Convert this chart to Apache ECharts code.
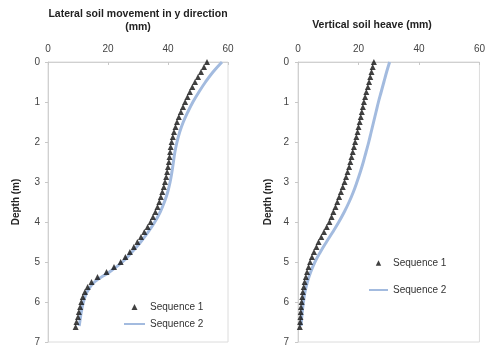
<!DOCTYPE html>
<html>
<head>
<meta charset="utf-8">
<script src="https://cdn.jsdelivr.net/npm/echarts@6/dist/echarts.min.js"></script>
<style>html,body{margin:0;padding:0;background:#fff}#c{width:488px;height:358px}</style>
</head>
<body>
<div id="c"></div>
<script>
// ---- data ----
var depth1 = [0,0.125,0.25,0.375,0.5,0.625,0.75,0.875,1,1.125,1.25,1.375,1.5,1.625,1.75,1.875,2,2.125,2.25,2.375,2.5,2.625,2.75,2.875,3,3.125,3.25,3.375,3.5,3.625,3.75,3.875,4,4.125,4.25,4.375,4.5,4.625,4.75,4.875,5,5.125,5.25,5.375,5.5,5.625,5.75,5.875,6,6.125,6.25,6.375,6.5,6.625];
var lateralSeq1 = [53,52,51,50,49,48.1,47.3,46.5,45.7,45,44.3,43.6,43,42.5,42,41.6,41.2,40.9,40.7,40.5,40.3,40,39.7,39.4,39,38.6,38.1,37.6,37.1,36.5,35.8,35,34.2,33.2,32.1,31,29.8,28.6,27.3,25.8,24.2,22,19.5,16.5,14.5,13.2,12.3,11.6,11.1,10.7,10.3,10,9.5,9.2];
var heaveSeq1 = [25.1,24.7,24.3,23.9,23.5,23.1,22.6,22.2,21.8,21.45,21.1,20.75,20.4,20,19.7,19.3,18.9,18.5,18.1,17.7,17.3,16.9,16.4,15.9,15.4,14.8,14.2,13.6,13,12.4,11.7,11.1,10.4,9.5,8.6,7.7,6.8,6.1,5.3,4.6,4,3.5,3,2.6,2.2,1.9,1.6,1.4,1.2,1,0.9,0.8,0.7,0.6];
var depth2 = [0,0.25,0.5,0.75,1,1.25,1.5,1.75,2,2.25,2.5,2.75,3,3.25,3.5,3.75,4,4.25,4.5,4.75,5,5.25,5.5,5.75,6,6.25,6.5,6.6];
var lateralSeq2 = [58,55,52.5,50.3,48.3,46.6,45.1,43.9,43,42.3,41.8,41.3,40.7,39.9,38.8,37.4,35.6,33.4,30.9,28,24.8,20.5,15.5,13,11.8,11.1,10.6,10.4];
var heaveSeq2 = [30.3,29.3,28.4,27.5,26.6,25.8,25,24.2,23.4,22.5,21.6,20.6,19.5,18.3,16.9,15.3,13.5,11.5,9.4,7.4,5.6,4.2,3.1,2.3,1.8,1.4,1.1,1];
var xTicks = {min:0, max:60, interval:20};
var yTicks = {min:0, max:7, interval:1};
var seriesNames = ['Sequence 1','Sequence 2'];
var titles = ['Lateral soil movement in y direction\n(mm)', 'Vertical soil heave (mm)'];
var yName = 'Depth (m)';

function pairs(xs, ys){ return xs.map(function(v,i){ return [v, ys[i]]; }); }

var chart = echarts.init(document.getElementById('c'));
var font = 'Liberation Sans, Arial, sans-serif';
function xAx(i){ return {gridIndex:i, type:'value', position:'top', min:xTicks.min, max:xTicks.max, interval:xTicks.interval,
  axisLine:{show:true, lineStyle:{color:'#d0d0d0'}}, axisTick:{show:true, inside:true, length:3, lineStyle:{color:'#c8c8c8'}},
  splitLine:{show:false}, axisLabel:{color:'#444', fontSize:10, fontFamily:font, margin:8}}; }
function yAx(i, gap, margin){ return {gridIndex:i, type:'value', inverse:true, min:yTicks.min, max:yTicks.max, interval:yTicks.interval,
  name:yName, nameLocation:'middle', nameGap:gap, nameRotate:90,
  nameTextStyle:{fontWeight:'bold', fontSize:10, color:'#222', fontFamily:font},
  axisLine:{show:true, lineStyle:{color:'#d0d0d0'}}, axisTick:{show:true, length:3, lineStyle:{color:'#c8c8c8'}},
  splitLine:{show:false}, axisLabel:{color:'#444', fontSize:10, fontFamily:font, margin:margin}}; }
function s1(i, vals){ return {name:seriesNames[0], type:'scatter', xAxisIndex:i, yAxisIndex:i, symbol:'triangle', symbolSize:6,
  itemStyle:{color:'#111'}, data:pairs(vals, depth1), z:3}; }
function s2(i, vals){ return {name:seriesNames[1], type:'line', xAxisIndex:i, yAxisIndex:i, showSymbol:false, symbol:'none', smooth:0.4,
  lineStyle:{color:'#a3bbdf', width:3}, itemStyle:{color:'#a3bbdf'}, data:pairs(vals, depth2), z:2}; }
function leg(left, top, gap, w){ return {
  data:[
    {name:seriesNames[0], icon:'path://M0,3L0,3M21,3L21,3M7.5,6L10.5,0L13.5,6Z'},
    {name:seriesNames[1], itemStyle:{opacity:0}}
  ],
  orient:'vertical', left:left, top:top, itemGap:gap, padding:0, symbolKeepAspect:true,
  itemWidth:w, itemHeight:7, textStyle:{fontSize:10, color:'#333', fontFamily:font}, selectedMode:false}; }

chart.setOption({
  animation:false,
  backgroundColor:'#fff',
  grid:[
    {left:48, top:62, width:180, height:280, show:true, borderColor:'#dcdcdc', borderWidth:1},
    {left:298, top:62, width:183, height:280, show:true, borderColor:'#dcdcdc', borderWidth:1}
  ],
  xAxis:[xAx(0), xAx(1)],
  yAxis:[yAx(0, 27, 8), yAx(1, 25, 9)],
  legend:[leg(123, 302, 7, 21), leg(368, 258, 17, 19)],
  graphic:[
    {type:'text', x:138, y:8, style:{text:titles[0], textAlign:'center', fontSize:10.5, fontWeight:'bold', fill:'#222', fontFamily:font, lineHeight:13}},
    {type:'text', x:372, y:20, style:{text:titles[1], textAlign:'center', fontSize:10.5, fontWeight:'bold', fill:'#222', fontFamily:font}}
  ],
  series:[s2(0, lateralSeq2), s1(0, lateralSeq1), s2(1, heaveSeq2), s1(1, heaveSeq1)]
});
</script>
</body>
</html>
